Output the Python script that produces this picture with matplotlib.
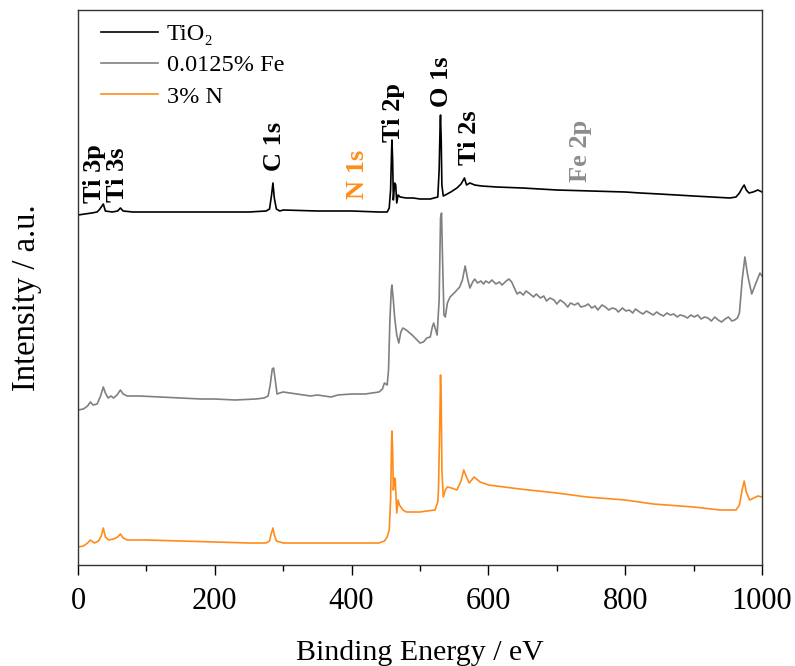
import matplotlib
matplotlib.use("Agg")
import matplotlib.pyplot as plt
from matplotlib.ticker import MultipleLocator

# ---- data (binding energy in eV, intensity in a.u.) ----
tio2_E = [0, 10, 20, 28, 32, 37, 40, 50, 58, 62, 66, 80, 150, 200, 250, 275, 280, 283, 285, 287,
          290, 295, 300, 350, 400, 440, 452, 455, 457, 458.5, 459, 460, 461, 463, 464.5, 466, 468,
          471, 480, 490, 500, 515, 526, 528, 529.5, 530, 531, 532, 534, 537, 545, 554, 560, 565,
          568, 573, 580, 590, 612, 650, 675, 700, 750, 800, 822, 850, 900, 953, 962, 967, 971,
          974, 977, 981, 987, 994, 1000]
tio2_I = [350, 351, 352, 353, 356, 361, 354, 353, 354, 357, 354, 353, 353, 353, 353, 354, 356, 370,
          382, 367, 356, 354, 355, 354, 354, 353, 353, 357, 375, 415, 425, 405, 365, 382, 380, 362,
          370, 368, 367, 367, 366, 366, 368, 395, 443, 450, 425, 380, 369, 370, 373, 377, 381, 387,
          380, 382, 380, 379, 378, 377, 376, 375, 374, 373, 372, 371, 369, 367, 368, 372, 377, 380,
          375, 372, 373, 375, 373]

# 0.0125% Fe spectrum as (energy, intensity) pairs
fe_points = [
    (0, 155), (8, 156), (14, 159), (18, 163), (22, 160), (28, 161), (33, 169), (37, 178), (40, 172),
    (44, 167), (48, 169), (52, 167), (57, 170), (62, 175), (66, 171), (72, 169), (90, 169),
    (120, 168), (150, 167), (180, 166), (200, 166), (230, 165), (260, 166), (272, 167), (278, 169),
    (281, 180), (284, 196), (286, 197), (288, 187), (291, 171), (295, 172), (300, 173), (320, 171),
    (340, 169), (350, 170), (370, 168), (380, 170), (400, 171), (420, 171), (440, 173), (445, 176),
    (448, 182), (452, 180), (454, 195), (456, 245), (458, 275), (459, 280), (461, 265), (463, 247),
    (466, 230), (469, 222), (472, 233), (475, 237), (480, 235), (490, 229), (500, 222), (505, 223),
    (510, 227), (515, 228), (518, 238), (520, 242), (523, 235), (525, 230), (528, 265), (530, 347),
    (531.5, 352), (533, 305), (535, 250), (537, 248), (540, 262), (544, 268), (550, 272),
    (558, 278), (562, 285), (566, 299), (570, 285), (573, 277), (577, 283), (580, 286), (584, 282),
    (589, 284), (593, 281), (596, 284), (601, 282), (605, 285), (611, 281), (616, 283), (620, 280),
    (626, 284), (630, 286), (634, 283), (638, 277), (642, 271), (646, 273), (651, 270), (655, 274),
    (661, 271), (666, 268), (670, 271), (676, 267), (681, 269), (685, 264), (690, 267), (696, 265),
    (700, 261), (705, 265), (711, 262), (716, 258), (720, 262), (726, 260), (731, 262), (735, 258),
    (741, 259), (746, 261), (751, 257), (756, 259), (760, 255), (766, 260), (771, 258), (776, 255),
    (781, 257), (786, 256), (790, 253), (796, 257), (801, 254), (806, 255), (811, 252), (815, 256),
    (821, 253), (826, 251), (831, 254), (836, 252), (841, 250), (846, 253), (850, 251), (856, 249),
    (861, 252), (866, 250), (871, 251), (876, 248), (880, 250), (886, 249), (891, 247), (896, 250),
    (901, 248), (906, 250), (911, 246), (916, 248), (921, 247), (926, 244), (931, 248), (936, 245),
    (941, 243), (946, 246), (951, 248), (956, 244), (960, 245), (964, 247), (967, 252), (971, 285),
    (975, 308), (979, 290), (985, 271), (990, 280), (997, 292), (1000, 289),
]
fe_E = [p[0] for p in fe_points]
fe_I = [p[1] for p in fe_points]

n_E = [0, 8, 14, 18, 24, 30, 34, 37, 40, 45, 52, 58, 62, 66, 72, 100, 150, 200, 250, 275, 280,
       282, 285, 287, 290, 300, 350, 400, 440, 448, 452, 455, 457, 458.5, 459, 460, 461, 463, 464,
       466, 468, 470, 475, 480, 490, 500, 510, 522, 526, 527, 529, 530, 531, 532, 534, 537, 540,
       546, 554, 560, 564, 568, 572, 579, 588, 600, 646, 700, 744, 800, 841, 900, 939, 955, 962,
       967, 971, 974, 977, 982, 988, 994, 1000]
n_I = [18, 19, 22, 25, 22, 24, 29, 37, 28, 25, 26, 28, 31, 27, 25, 25, 24, 23, 22, 22, 24, 30, 37,
       30, 24, 22, 22, 22, 22, 24, 28, 35, 65, 125, 134, 115, 75, 87, 83, 52, 65, 60, 55, 53, 53,
       53, 54, 55, 63, 75, 145, 190, 165, 95, 68, 75, 78, 77, 75, 84, 95, 88, 82, 88, 83, 80, 76,
       72, 68, 65, 61, 58, 55, 55, 55, 60, 75, 84, 73, 65, 67, 69, 68]

series = [
    ("TiO\u2082", tio2_E, tio2_I, "#000000"),
    ("0.0125% Fe", fe_E, fe_I, "#808080"),
    ("3% N", n_E, n_I, "#ff8c1a"),
]

peak_labels = ["Ti 3p", "Ti 3s", "C 1s", "N 1s", "Ti 2p", "O 1s", "Ti 2s", "Fe 2p"]
peak_E = [24, 58, 288, 409, 461, 532, 573, 734]
peak_I = [391, 390, 419, 391, 452, 483, 427, 414]
peak_colors = ["#000000", "#000000", "#000000", "#ff8c1a", "#000000", "#000000", "#000000", "#8c8c8c"]

xticks = [0, 200, 400, 600, 800, 1000]

# ---- plot ----
serif = ["Liberation Serif", "DejaVu Serif"]
plt.rcParams["font.family"] = serif

fig = plt.figure(figsize=(7.95, 6.66), dpi=100)
ax = fig.add_axes([78 / 795, 1 - 565 / 666, (762 - 78) / 795, (565 - 10) / 666])

for name, E, I, c in series:
    ax.plot(E, I, color=c, lw=1.2, label=name)

for lab, e, i, c in zip(peak_labels, peak_E, peak_I, peak_colors):
    ax.text(e, i, lab, rotation=90, ha="center", va="center", fontsize=19,
            fontweight="bold", color=c, family=serif)

ax.set_xlim(0, 1000)
ax.set_ylim(0, 555)
ax.set_xticks(xticks)
ax.set_xticklabels([str(t) for t in xticks])
ax.xaxis.set_minor_locator(MultipleLocator(100))
ax.set_yticks([])
ax.tick_params(axis="x", which="major", direction="out", length=7, width=1, labelsize=22, pad=9)
ax.tick_params(axis="x", which="minor", direction="out", length=4, width=1)
for s in ax.spines.values():
    s.set_linewidth(1.0)
    s.set_color("#333333")

ax.set_xlabel("Binding Energy / eV", fontsize=21.5, labelpad=17)
ax.set_ylabel("Intensity / a.u.", fontsize=23.5)
ax.yaxis.set_label_coords(-0.053, 0.481)

leg = ax.legend(loc="upper left", frameon=False, fontsize=17.5, handlelength=2.35,
                handletextpad=0.35, labelspacing=0.38, borderaxespad=0.3,
                bbox_to_anchor=(0.0088, 1.007))

fig.savefig("out.png", dpi=100)
